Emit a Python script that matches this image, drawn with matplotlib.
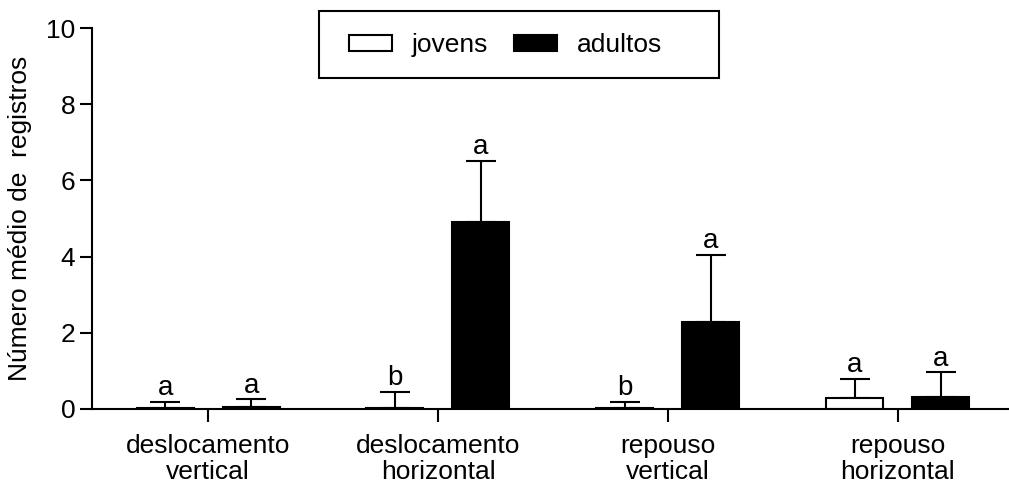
import numpy as np
import matplotlib
matplotlib.use("Agg")
import matplotlib.pyplot as plt
from matplotlib.patches import Rectangle

plt.rcParams['font.family'] = ['Liberation Sans', 'DejaVu Sans']

categories = ['deslocamento\nvertical', 'deslocamento\nhorizontal',
              'repouso\nvertical', 'repouso\nhorizontal']
jovens = [0.02, 0.02, 0.02, 0.28]
jovens_err = [0.16, 0.43, 0.16, 0.52]
adultos = [0.05, 4.91, 2.28, 0.32]
adultos_err = [0.20, 1.60, 1.76, 0.64]
letras_jovens = ['a', 'b', 'b', 'a']
letras_adultos = ['a', 'a', 'a', 'a']

fs = 19
W, H = 1009, 484
fig = plt.figure(figsize=(W / 100, H / 100), dpi=100)
ax = fig.add_axes([92 / W, 1 - 409 / H, 916 / W, 381 / H])

x = np.arange(len(categories))
off = 0.187
w = 0.248
ax.bar(x - off, jovens, w, color='white', edgecolor='black', linewidth=1.5,
       label='jovens', zorder=2)
ax.bar(x + off, adultos, w, color='black', edgecolor='black', linewidth=1.5,
       label='adultos', zorder=2)
ax.errorbar(x - off, jovens, yerr=[np.zeros(4), jovens_err], fmt='none',
            ecolor='black', elinewidth=1.5, capsize=10.5, capthick=1.5, zorder=1)
ax.errorbar(x + off, adultos, yerr=[np.zeros(4), adultos_err], fmt='none',
            ecolor='black', elinewidth=1.5, capsize=10.5, capthick=1.5, zorder=1)

for i in range(len(categories)):
    ax.text(x[i] - off, jovens[i] + jovens_err[i] + 0.02, letras_jovens[i],
            ha='center', va='bottom', fontsize=fs + 1)
    ax.text(x[i] + off, adultos[i] + adultos_err[i] + 0.02, letras_adultos[i],
            ha='center', va='bottom', fontsize=fs + 1)

ax.set_xlim(-0.505, 3.48)
ax.set_ylim(0, 10)
ax.set_yticks([0, 2, 4, 6, 8, 10])
ax.set_xticks(x)
ax.set_xticklabels(categories, fontsize=fs, linespacing=1.12)
ax.tick_params(axis='y', labelsize=fs, width=1.5, length=9, direction='out', pad=3)
ax.tick_params(axis='x', labelsize=fs, width=1.5, length=9, direction='out', pad=9)
ax.set_ylabel('Número médio de  registros', fontsize=fs, labelpad=10)
for s in ['top', 'right']:
    ax.spines[s].set_visible(False)
for s in ['left', 'bottom']:
    ax.spines[s].set_linewidth(1.5)

leg = ax.legend(loc='center', bbox_to_anchor=(505.5 / W, 1 - 45 / H),
                bbox_transform=fig.transFigure, ncol=2, fontsize=fs,
                frameon=False, handlelength=1.63, handleheight=0.57,
                handletextpad=0.76, columnspacing=0.95)
for p in leg.get_patches():
    p.set_linewidth(1.5)

fig.patches.append(Rectangle((319 / W, 1 - 78 / H), 400 / W, 67 / H,
                             transform=fig.transFigure, fill=False,
                             edgecolor='black', linewidth=1.5))

fig.savefig('out.png', dpi=100)
